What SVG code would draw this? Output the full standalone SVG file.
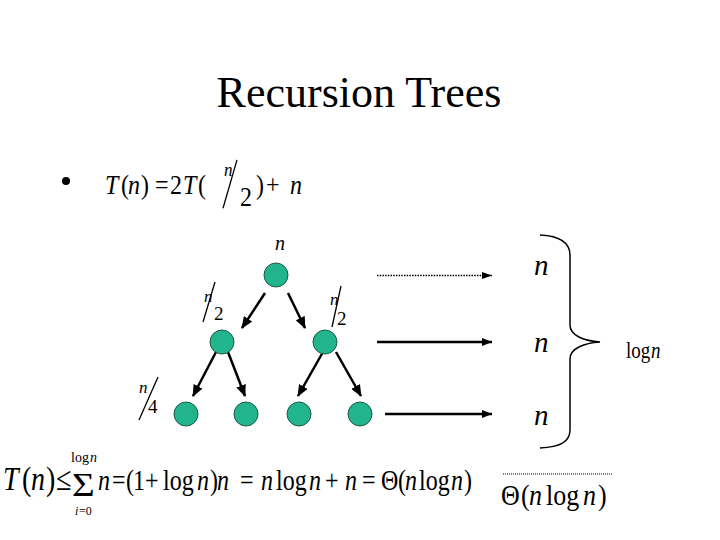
<svg xmlns="http://www.w3.org/2000/svg" width="720" height="540" viewBox="0 0 720 540">
<style>
text{font-family:"Liberation Serif","Times New Roman",serif;fill:#000}
.it{font-style:italic}
.node{fill:#22b48c;stroke:#1d5a4a;stroke-width:1}
.arr{stroke:#000;stroke-width:2.5;fill:none;marker-end:url(#ah)}
.harr{stroke:#000;stroke-width:2.5;fill:none;marker-end:url(#ah2)}
.dot{stroke:#000;stroke-width:1.5;stroke-dasharray:1.5 1.2;fill:none;marker-end:url(#ah3)}
.sl{stroke:#000;stroke-width:1.3}
</style>
<defs>
<marker id="ah" markerUnits="userSpaceOnUse" markerWidth="12" markerHeight="10" refX="11" refY="5" orient="auto"><path d="M0,0 L12,5 L0,10 z" fill="#000"/></marker>
<marker id="ah2" markerUnits="userSpaceOnUse" markerWidth="10" markerHeight="8" refX="10" refY="4" orient="auto"><path d="M0,0 L10,4 L0,8 z" fill="#000"/></marker>
<marker id="ah3" markerUnits="userSpaceOnUse" markerWidth="10" markerHeight="8" refX="10" refY="4" orient="auto"><path d="M0,0.5 L10,4 L0,7.5 z" fill="#000"/></marker>
</defs>
<rect width="720" height="540" fill="#fff"/>
<text x="359" y="107" font-size="44" text-anchor="middle">Recursion Trees</text>
<circle cx="66" cy="181" r="4" fill="#000"/>
<g id="recurrence" transform="translate(0,194) scale(1,1.1) translate(0,-194)">
<text y="194" font-size="24"><tspan class="it" x="105">T</tspan><tspan x="121">(</tspan><tspan class="it" x="128">n</tspan><tspan x="141">)</tspan><tspan x="155">=</tspan><tspan x="170">2</tspan><tspan class="it" x="183">T</tspan><tspan x="198">(</tspan></text>
<text x="224" y="178" font-size="17" class="it">n</text>
<line class="sl" x1="237" y1="163" x2="223" y2="207"/>
<text x="240" y="205" font-size="24">2</text>
<text y="194" font-size="24"><tspan x="256">)</tspan><tspan x="266">+</tspan><tspan class="it" x="290">n</tspan></text>
</g>
<g id="connectors">
<line class="arr" x1="265" y1="293" x2="242" y2="328"/>
<line class="arr" x1="288" y1="293" x2="305" y2="328"/>
<line class="arr" x1="216" y1="352" x2="193" y2="396"/>
<line class="arr" x1="228" y1="352" x2="245" y2="396"/>
<line class="arr" x1="323" y1="352" x2="298" y2="396"/>
<line class="arr" x1="336" y1="352" x2="361" y2="396"/>
<line class="dot" x1="377" y1="275.5" x2="492" y2="275.5"/>
<line class="harr" x1="377" y1="342" x2="492" y2="342"/>
<line class="harr" x1="385" y1="414" x2="492" y2="414"/>
</g>
<g id="root"><circle class="node" cx="276" cy="275" r="12"/><text x="280" y="250" font-size="20" class="it" text-anchor="middle">n</text></g>
<g id="l1a"><circle class="node" cx="222" cy="342" r="12"/>
<text x="204" y="302" font-size="17" class="it">n</text><line class="sl" x1="215" y1="282" x2="203" y2="322"/><text x="214" y="320" font-size="19">2</text></g>
<g id="l1b"><circle class="node" cx="325" cy="342" r="12"/>
<text x="330" y="305" font-size="17" class="it">n</text><line class="sl" x1="341" y1="286" x2="332" y2="327"/><text x="337" y="325" font-size="19">2</text></g>
<g id="l2a"><circle class="node" cx="186" cy="414" r="12"/>
<text x="139" y="393" font-size="17" class="it">n</text><line class="sl" x1="158" y1="377" x2="139" y2="420"/><text x="148" y="413" font-size="19">4</text></g>
<g id="l2b"><circle class="node" cx="246" cy="414" r="12"/></g>
<g id="l2c"><circle class="node" cx="299" cy="414" r="12"/></g>
<g id="l2d"><circle class="node" cx="360" cy="414" r="12"/></g>
<g id="levelcosts">
<text x="534" y="275" font-size="29" class="it">n</text>
<text x="534" y="352" font-size="29" class="it">n</text>
<text x="534" y="425" font-size="29" class="it">n</text>
<path d="M540,235 C560,236 570,242 570,255 L570,325 C570,336 585,341 600,342 C585,343 570,348 570,359 L570,430 C570,442 560,447 540,448" fill="none" stroke="#000" stroke-width="1.5"/>
<g transform="translate(0,358) scale(1,1.2) translate(0,-358)">
<text y="358" font-size="19"><tspan x="626">log</tspan><tspan class="it" x="651">n</tspan></text>
</g>
</g>
<g id="sum">
<g transform="translate(72,496) scale(1.3,1.1)"><text x="0" y="0" font-size="30">Σ</text></g>
<text y="462" font-size="14"><tspan x="71">log</tspan><tspan class="it" x="90">n</tspan></text>
<text y="515" font-size="12"><tspan class="it" x="75">i</tspan><tspan x="79">=0</tspan></text>
<g transform="translate(0,490) scale(1,1.2) translate(0,-490)">
<text y="490" font-size="28"><tspan class="it" x="3">T</tspan><tspan x="22">(</tspan><tspan class="it" x="31">n</tspan><tspan x="46">)</tspan><tspan x="56">≤</tspan></text>
<text y="490" font-size="24"><tspan class="it" x="98">n</tspan><tspan x="112">=</tspan><tspan x="126">(</tspan><tspan x="133">1</tspan><tspan x="145">+</tspan><tspan x="163">log</tspan><tspan class="it" x="197">n</tspan><tspan x="210">)</tspan><tspan class="it" x="217">n</tspan><tspan x="240">=</tspan><tspan class="it" x="261">n</tspan><tspan x="276">log</tspan><tspan class="it" x="309">n</tspan><tspan x="325">+</tspan><tspan class="it" x="345">n</tspan><tspan x="362">=</tspan><tspan x="381">Θ</tspan><tspan x="398">(</tspan><tspan class="it" x="405">n</tspan><tspan x="419">log</tspan><tspan class="it" x="451">n</tspan><tspan x="464">)</tspan></text>
</g>
</g>
<g id="total">
<line x1="503" y1="474" x2="613" y2="474" stroke="#000" stroke-width="1" stroke-dasharray="1 1"/>
<g transform="translate(0,505) scale(1,1.15) translate(0,-505)">
<text y="505" font-size="26"><tspan x="501">Θ</tspan><tspan x="521">(</tspan><tspan class="it" x="529">n</tspan><tspan x="546">log</tspan><tspan class="it" x="583">n</tspan><tspan x="598">)</tspan></text>
</g>
</g>
</svg>
